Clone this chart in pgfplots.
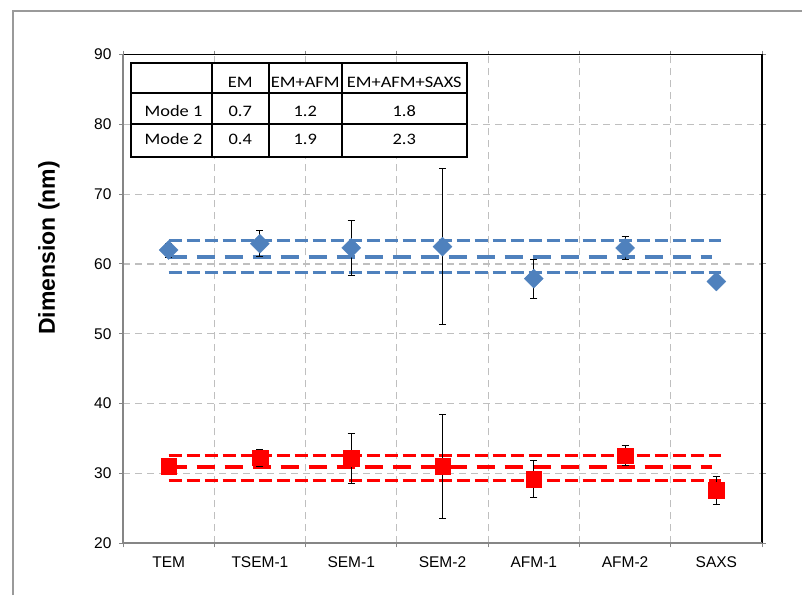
\documentclass[border=0pt]{standalone}
\usepackage{fontspec}
\setmainfont{Liberation Sans}
\newfontfamily\calibri{Carlito}
\usepackage{graphicx}
\usepackage{pgfplots}
\pgfplotsset{compat=1.18}
\definecolor{eblue}{HTML}{4F81BD}
\definecolor{gridgray}{HTML}{BFBFBF}
\definecolor{axgray}{HTML}{868686}
\definecolor{framegray}{HTML}{9A9A9A}
\newcommand{\tabtxt}[1]{{\calibri\fontsize{16}{19}\selectfont\scalebox{1.15}[1]{#1}}}
\begin{document}
\begin{tikzpicture}
\path[use as bounding box] (-123pt,-51.7pt) rectangle (679pt,543.3pt);
\draw[framegray, line width=2pt] (-110pt,-51.7pt) -- (-110pt,532.3pt) -- (679pt,532.3pt);
\begin{axis}[
  at={(0pt,0pt)}, anchor=south west,
  scale only axis, width=639pt, height=488.8pt,
  xmin=-0.5, xmax=6.5, ymin=20, ymax=90,
  ytick={20,30,...,90},
  xtick={0,...,6},
  xticklabels={TEM,TSEM-1,SEM-1,SEM-2,AFM-1,AFM-2,SAXS},
  minor xtick={-0.5,0.5,...,6.5},
  xminorgrids=true, ymajorgrids=true,
  major x tick style={draw=none},
  tick align=outside,
  major tick length=4pt, minor tick length=4pt,
  tick style={axgray, line width=1pt},
  grid style={gridgray, dash pattern=on 7pt off 5pt, line width=1.2pt},
  minor grid style={gridgray, dash pattern=on 7pt off 5pt, line width=1.2pt},
  axis line style={draw=none},
  ticklabel style={font=\fontsize{15.5}{18}\selectfont},
  /pgf/number format/assume math mode=true,
  xticklabel style={yshift=-6pt},
  yticklabel style={xshift=-4pt},
  clip=false,
]
% blue bands
\addplot[eblue, line width=3pt, dash pattern=on 13pt off 5pt] coordinates {(0,63.4) (6.05,63.4)};
\addplot[eblue, line width=4.5pt, dash pattern=on 18pt off 10pt] coordinates {(0,61.0) (5.95,61.0)};
\addplot[eblue, line width=3pt, dash pattern=on 13pt off 5pt] coordinates {(0,58.8) (6.05,58.8)};
% red bands
\addplot[red, line width=3pt, dash pattern=on 13pt off 5pt] coordinates {(0,32.6) (6.05,32.6)};
\addplot[red, line width=4.5pt, dash pattern=on 18pt off 10pt] coordinates {(0,30.9) (5.95,30.9)};
\addplot[red, line width=3pt, dash pattern=on 13pt off 5pt] coordinates {(0,29.0) (6.05,29.0)};
% blue series
\addplot[only marks, mark=square*, mark size=6.7pt,
  mark options={rotate=45, fill=eblue, draw=eblue},
  error bars/.cd, y dir=both, y explicit,
  error bar style={black, line width=0.9pt},
  error mark options={rotate=90, black, mark size=3.5pt, line width=0.9pt}]
  coordinates {
  (0,62.0) +- (0,1.0)
  (1,62.9) +- (0,1.85)
  (2,62.3) +- (0,4.0)
  (3,62.5) +- (0,11.2)
  (4,57.9) +- (0,2.8)
  (5,62.3) +- (0,1.6)
  (6,57.5) +- (0,0)
  };
% red series
\addplot[only marks, mark=square*, mark size=7.8pt,
  mark options={fill=red, draw=red},
  error bars/.cd, y dir=both, y explicit,
  error bar style={black, line width=0.9pt},
  error mark options={rotate=90, black, mark size=3.5pt, line width=0.9pt}]
  coordinates {
  (0,31.0) +- (0,0.5)
  (1,32.25) +- (0,1.25)
  (2,32.2) +- (0,3.6)
  (3,31.0) +- (0,7.4)
  (4,29.2) +- (0,2.6)
  (5,32.55) +- (0,1.45)
  (6,27.6) +- (0,2.0)
  };
\end{axis}
\draw[black, line width=1.5pt] (0pt,488.8pt) -- (639pt,488.8pt) -- (639pt,0pt);
\draw[axgray, line width=2pt] (0pt,488.8pt) -- (0pt,0pt) -- (639pt,0pt);
% y label
\node[rotate=90, font=\bfseries\fontsize{23}{27}\selectfont] at (-74pt,295.3pt) {Dimension (nm)};
% table
\fill[white] (8pt,385.8pt) rectangle (343.5pt,480.3pt);
\draw[black, line width=2pt] (8pt,385.8pt) rectangle (343.5pt,480.3pt);
\foreach \x in {89,145.5,219} \draw[black, line width=2pt] (\x pt,385.8pt) -- (\x pt,480.3pt);
\foreach \y in {450.3,419.3} \draw[black, line width=2pt] (8pt,\y pt) -- (343.5pt,\y pt);
\node[anchor=base, inner sep=0pt] at (117.3pt,456pt) {\tabtxt{EM}};
\node[anchor=base, inner sep=0pt] at (182.3pt,456pt) {\tabtxt{EM+AFM}};
\node[anchor=base, inner sep=0pt] at (281.3pt,456pt) {\tabtxt{EM+AFM+SAXS}};
\node[anchor=base, inner sep=0pt] at (50.5pt,426.6pt) {\tabtxt{Mode 1}};
\node[anchor=base, inner sep=0pt] at (117.3pt,426.6pt) {\tabtxt{0.7}};
\node[anchor=base, inner sep=0pt] at (182.3pt,426.6pt) {\tabtxt{1.2}};
\node[anchor=base, inner sep=0pt] at (281.3pt,426.6pt) {\tabtxt{1.8}};
\node[anchor=base, inner sep=0pt] at (50.5pt,398.3pt) {\tabtxt{Mode 2}};
\node[anchor=base, inner sep=0pt] at (117.3pt,398.3pt) {\tabtxt{0.4}};
\node[anchor=base, inner sep=0pt] at (182.3pt,398.3pt) {\tabtxt{1.9}};
\node[anchor=base, inner sep=0pt] at (281.3pt,398.3pt) {\tabtxt{2.3}};
\end{tikzpicture}
\end{document}
